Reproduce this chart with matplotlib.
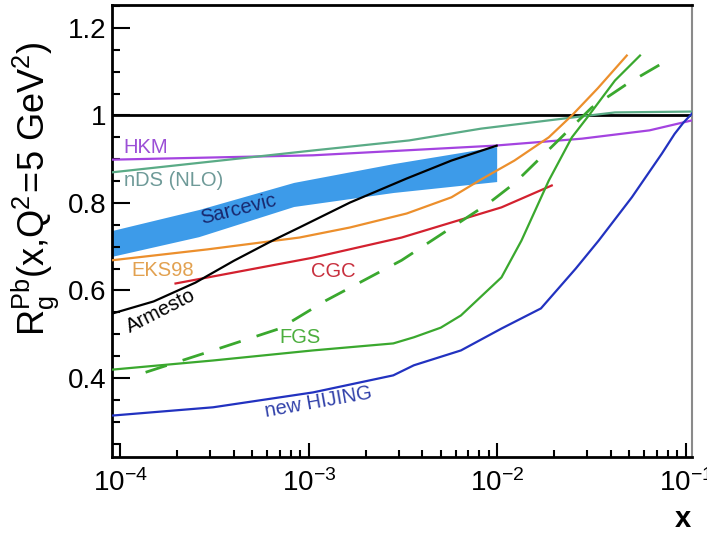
import matplotlib
matplotlib.use("Agg")
import matplotlib.pyplot as plt
from matplotlib.ticker import FixedLocator, MultipleLocator, LogLocator, NullFormatter

plt.rcParams['font.family'] = ['Liberation Sans', 'DejaVu Sans']
plt.rcParams['mathtext.fontset'] = 'custom'
plt.rcParams['mathtext.rm'] = 'Liberation Sans'
plt.rcParams['mathtext.it'] = 'Liberation Sans'
plt.rcParams['mathtext.bf'] = 'Liberation Sans:bold'

# ---- model curves: gluon nuclear modification R_g^Pb(x, Q^2 = 5 GeV^2) ----
hkm_x = [9.0e-5, 1.05e-3, 9.6e-3, 2.8e-2, 6.4e-2, 0.108]
hkm_y = [0.899, 0.909, 0.931, 0.947, 0.966, 0.989]

nds_x = [9.0e-5, 1.05e-3, 3.4e-3, 8.2e-3, 2.8e-2, 4.2e-2, 0.108]
nds_y = [0.870, 0.920, 0.943, 0.970, 0.998, 1.007, 1.009]

sarcevic_x = [9.0e-5, 2.6e-4, 8.3e-4, 2.8e-3, 9.9e-3]
sarcevic_hi = [0.737, 0.785, 0.847, 0.890, 0.929]
sarcevic_lo = [0.678, 0.723, 0.792, 0.824, 0.849]

armesto_x = [9.0e-5, 1.5e-4, 2.5e-4, 4.0e-4, 6.4e-4, 8.9e-4, 1.65e-3, 3.3e-3, 5.7e-3, 9.9e-3]
armesto_y = [0.547, 0.575, 0.618, 0.668, 0.714, 0.744, 0.801, 0.856, 0.897, 0.931]

eks98_x = [9.0e-5, 2.9e-4, 8.9e-4, 1.65e-3, 3.3e-3, 5.7e-3, 8.2e-3, 1.23e-2, 1.87e-2, 2.48e-2, 3.4e-2, 4.85e-2]
eks98_y = [0.669, 0.694, 0.721, 0.744, 0.776, 0.813, 0.854, 0.897, 0.950, 1.000, 1.062, 1.137]

cgc_x = [1.96e-4, 1.05e-3, 3.1e-3, 8.2e-3, 1.05e-2, 1.94e-2]
cgc_y = [0.616, 0.675, 0.721, 0.776, 0.790, 0.840]

fgs_x = [9.0e-5, 3.1e-4, 1.05e-3, 2.8e-3, 3.6e-3, 5.0e-3, 6.4e-3, 1.05e-2, 1.34e-2, 1.87e-2, 2.48e-2, 3.05e-2, 4.2e-2, 5.7e-2]
fgs_y = [0.419, 0.440, 0.463, 0.479, 0.493, 0.515, 0.543, 0.630, 0.714, 0.851, 0.950, 1.000, 1.080, 1.137]

fgs_dash_x = [1.36e-4, 3.1e-4, 7.0e-4, 1.23e-3, 3.1e-3, 8.95e-3, 1.23e-2, 2.1e-2, 3.16e-2, 4.98e-2, 7.6e-2]
fgs_dash_y = [0.413, 0.463, 0.513, 0.577, 0.669, 0.799, 0.845, 0.943, 1.018, 1.075, 1.121]

hijing_x = [9.0e-5, 3.1e-4, 1.05e-3, 2.8e-3, 3.6e-3, 6.4e-3, 1.05e-2, 1.7e-2, 2.6e-2, 3.44e-2, 5.16e-2, 7.45e-2, 8.7e-2, 0.097, 0.108]
hijing_y = [0.314, 0.333, 0.367, 0.406, 0.429, 0.463, 0.513, 0.559, 0.650, 0.714, 0.813, 0.913, 0.958, 0.984, 1.005]

ytick_vals = [0.4, 0.6, 0.8, 1.0, 1.2]
ytick_text = ["0.4", "0.6", "0.8", "1", "1.2"]
xtick_vals = [1e-4, 1e-3, 1e-2, 1e-1]
xtick_text = [r"$\mathregular{10^{-4}}$", r"$\mathregular{10^{-3}}$",
              r"$\mathregular{10^{-2}}$", r"$\mathregular{10^{-1}}$"]

# colours
c_hkm = "#a443e0"
c_nds = "#5aab86"
c_band = "#3d9be9"
c_eks = "#ec8f2c"
c_cgc = "#d3212f"
c_fgs = "#3aa82e"
c_hij = "#2232c0"

fig = plt.figure(figsize=(7.07, 5.35), dpi=100)
ax = fig.add_axes([0.1584, 0.1458, 0.8204, 0.8449])
ax.set_xscale("log")
ax.set_xlim(9.02e-5, 0.1076)
ax.set_ylim(0.2194, 1.2526)

lw = 1.6
ax.axhline(1.0, color="black", lw=2.0, zorder=2)
ax.fill_between(sarcevic_x, sarcevic_lo, sarcevic_hi, color=c_band, lw=0, zorder=1)
ax.plot(hkm_x, hkm_y, color=c_hkm, lw=lw, zorder=3)
ax.plot(nds_x, nds_y, color=c_nds, lw=lw, zorder=3)
ax.plot(armesto_x, armesto_y, color="black", lw=lw, zorder=4)
ax.plot(eks98_x, eks98_y, color=c_eks, lw=lw, zorder=3)
ax.plot(cgc_x, cgc_y, color=c_cgc, lw=lw, zorder=3)
ax.plot(fgs_x, fgs_y, color=c_fgs, lw=lw, zorder=3)
ax.plot(fgs_dash_x, fgs_dash_y, color=c_fgs, lw=2.0, dashes=(8, 6), zorder=3)
ax.plot(hijing_x, hijing_y, color=c_hij, lw=lw, zorder=3)

# curve labels
fs = 14.5
ax.text(1.04e-4, 0.927, "HKM", color="#9b4fd6", fontsize=fs, ha="left", va="center")
ax.text(1.04e-4, 0.851, "nDS (NLO)", color="#6e9a98", fontsize=fs, ha="left", va="center")
ax.text(4.25e-4, 0.785, "Sarcevic", color="#18286e", fontsize=fs, ha="center", va="center",
        rotation=14, rotation_mode="anchor")
ax.text(1.67e-4, 0.646, "EKS98", color="#e2a150", fontsize=fs, ha="center", va="center")
ax.text(1.63e-4, 0.552, "Armesto", color="black", fontsize=fs, ha="center", va="center",
        rotation=27, rotation_mode="anchor")
ax.text(1.34e-3, 0.643, "CGC", color="#c8303e", fontsize=fs, ha="center", va="center")
ax.text(8.95e-4, 0.493, "FGS", color="#4cae3e", fontsize=fs, ha="center", va="center")
ax.text(1.13e-3, 0.344, "new HIJING", color="#3242aa", fontsize=fs, ha="center", va="center",
        rotation=10, rotation_mode="anchor")

# axes styling
for side in ("left", "bottom", "top"):
    ax.spines[side].set_linewidth(2.0)
    ax.spines[side].set_color("black")
ax.spines["right"].set_linewidth(1.5)
ax.spines["right"].set_color("#8a8a8a")

ax.yaxis.set_major_locator(FixedLocator(ytick_vals))
ax.set_yticklabels(ytick_text)
ax.yaxis.set_minor_locator(MultipleLocator(0.05))
ax.xaxis.set_major_locator(FixedLocator(xtick_vals))
ax.set_xticklabels(xtick_text)
ax.xaxis.set_minor_locator(LogLocator(base=10, subs=[2, 3, 4, 5, 6, 7, 8, 9], numticks=20))
ax.xaxis.set_minor_formatter(NullFormatter())

ax.tick_params(axis="y", which="major", direction="in", length=13, width=1.5,
               labelsize=20, pad=4, right=False)
ax.tick_params(axis="y", which="minor", direction="in", length=6, width=1.5, right=False)
ax.tick_params(axis="x", which="major", direction="in", length=10, width=1.5,
               labelsize=20, pad=9, top=False)
ax.tick_params(axis="x", which="minor", direction="in", length=5, width=1.5, top=False)

fig.text(0.05, 0.648, r"$\mathregular{R_g^{Pb}(x{,}Q^2\!=\!5\ GeV^2)}$", rotation=90,
         fontsize=26, ha="center", va="center")
fig.text(0.966, 0.03, "x", fontsize=21, fontweight="bold", ha="center", va="center")

fig.savefig("out.png", dpi=100)
